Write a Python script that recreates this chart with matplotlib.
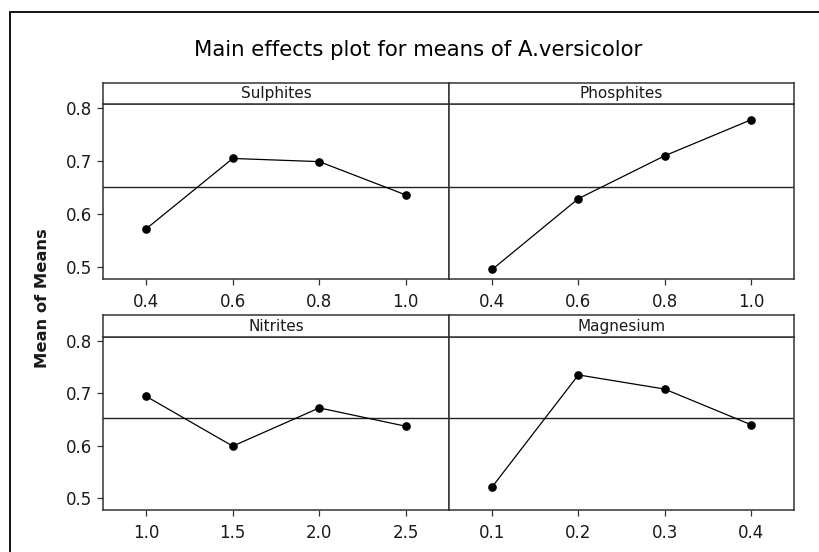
import numpy as np
import matplotlib
matplotlib.use("Agg")
import matplotlib.pyplot as plt
from matplotlib.patches import Rectangle

# Factor names and their levels
factors = ["Sulphites", "Phosphites", "Nitrites", "Magnesium"]
sulphites_levels = ["0.4", "0.6", "0.8", "1.0"]
phosphites_levels = ["0.4", "0.6", "0.8", "1.0"]
nitrites_levels = ["1.0", "1.5", "2.0", "2.5"]
magnesium_levels = ["0.1", "0.2", "0.3", "0.4"]

# Mean of means at each level
sulphites_means = [0.572, 0.705, 0.699, 0.636]
phosphites_means = [0.495, 0.629, 0.710, 0.778]
nitrites_means = [0.694, 0.599, 0.672, 0.637]
magnesium_means = [0.521, 0.735, 0.708, 0.640]

y_ticks = [0.5, 0.6, 0.7, 0.8]

levels = [sulphites_levels, phosphites_levels, nitrites_levels, magnesium_levels]
means = [sulphites_means, phosphites_means, nitrites_means, magnesium_means]
grand_mean = float(np.mean(np.concatenate([np.array(m) for m in means])))

W, H = 820, 552
fig = plt.figure(figsize=(W / 100, H / 100), dpi=100)
fig.patch.set_facecolor("white")

FONT = "DejaVu Sans"
TXT = "#1a1a1a"
EDGE = "#333333"

def fx(px):
    return px / W

def fy(px):
    return 1 - px / H

# panel boxes in pixel units: (left, right), (strip top, strip bottom, plot bottom)
cols = [(103, 449), (449, 794)]
rows = [(83, 104, 279), (315, 336.7, 510)]

for i, (name, lv, mv) in enumerate(zip(factors, levels, means)):
    r, c = divmod(i, 2)
    x0, x1 = cols[c]
    st, sb, pb = rows[r]
    ax = fig.add_axes([fx(x0), fy(pb), fx(x1 - x0), fy(sb) - fy(pb)])
    sax = fig.add_axes([fx(x0), fy(sb), fx(x1 - x0), fy(st) - fy(sb)])

    xs = np.arange(1, len(lv) + 1)
    ax.axhline(grand_mean, color="#222222", lw=1.0, zorder=1)
    ax.plot(xs, mv, color="black", lw=0.9, marker="o", markersize=5.2,
            markerfacecolor="black", markeredgecolor="black", zorder=3)

    ax.set_xlim(0.5, 4.5)
    ax.set_ylim(0.477, 0.808)
    ax.set_xticks(xs)
    ax.set_xticklabels(lv, fontfamily=FONT, fontsize=12, color=TXT)
    ax.set_yticks(y_ticks)
    if c == 0:
        ax.set_yticklabels([f"{t:.1f}" for t in y_ticks], fontfamily=FONT,
                           fontsize=12, color=TXT)
        ax.tick_params(axis="y", direction="out", length=4, width=0.9,
                       color=EDGE, pad=4)
    else:
        ax.tick_params(axis="y", left=False, labelleft=False)
    ax.tick_params(axis="x", direction="out", length=4, width=0.9,
                   color=EDGE, pad=6)
    for sp in ax.spines.values():
        sp.set_color(EDGE)
        sp.set_linewidth(1.1)

    sax.set_xticks([])
    sax.set_yticks([])
    for sp in sax.spines.values():
        sp.set_color(EDGE)
        sp.set_linewidth(1.1)
    sax.text(0.5, 0.48, name, transform=sax.transAxes, ha="center",
             va="center", fontfamily=FONT, fontsize=11, color=TXT)

fig.text(fx(418), fy(50), "Main effects plot for means of A.versicolor",
         ha="center", va="center", fontfamily=FONT, fontsize=15.3, color="black")
fig.text(fx(43), fy(298), "Mean of Means", rotation=90, ha="center",
         va="center", fontfamily=FONT, fontsize=11.8, fontweight="bold",
         color=TXT)

# outer frame running off the right and bottom edges
fig.add_artist(Rectangle((fx(10), -0.1), 1.2, fy(12) + 0.1,
                         transform=fig.transFigure, fill=False,
                         edgecolor="black", linewidth=1.3))

fig.savefig("out.png", dpi=100, facecolor="white")
